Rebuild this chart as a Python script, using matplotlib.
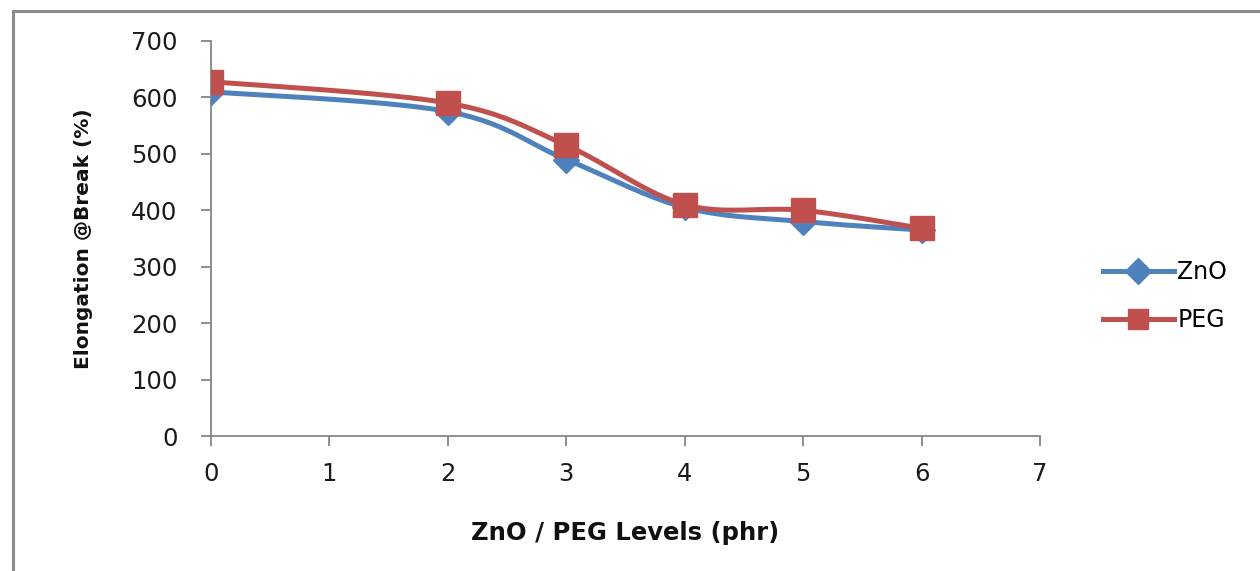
import numpy as np
import matplotlib
matplotlib.use("Agg")
import matplotlib.pyplot as plt
from matplotlib.patches import Rectangle
from matplotlib.lines import Line2D

# Data
levels = [0, 2, 3, 4, 5, 6]
zno = [610, 575, 490, 405, 380, 365]
peg = [628, 590, 515, 410, 400, 368]
series_names = ["ZnO", "PEG"]
x_ticks = [0, 1, 2, 3, 4, 5, 6, 7]
y_ticks = [0, 100, 200, 300, 400, 500, 600, 700]

BLUE = "#4F81BD"
RED = "#C0504D"
GREY = "#868686"


def smooth(x, y, n=40):
    x = np.asarray(x, float)
    y = np.asarray(y, float)
    P = np.column_stack([x, y])
    out = [P[0]]
    m = len(P)
    for i in range(m - 1):
        p0 = P[i - 1] if i > 0 else P[i]
        p1 = P[i]
        p2 = P[i + 1]
        p3 = P[i + 2] if i + 2 < m else P[i + 1]
        c1 = p1 + (p2 - p0) / 6.0
        c2 = p2 - (p3 - p1) / 6.0
        t = np.linspace(0, 1, n)[1:, None]
        b = ((1 - t) ** 3) * p1 + 3 * ((1 - t) ** 2) * t * c1 + 3 * (1 - t) * t ** 2 * c2 + t ** 3 * p2
        out.extend(b)
    out = np.array(out)
    return out[:, 0], out[:, 1]


plt.rcParams['font.family'] = ['DejaVu Sans']
fig = plt.figure(figsize=(12.6, 5.71), dpi=100)
fig.patch.set_facecolor("white")

# chart-area frame (partially outside figure)
fig.patches.append(Rectangle((12.5 / 1260, -0.1), 1.2, 1.1 - 11.5 / 571,
                             transform=fig.transFigure, fill=False,
                             edgecolor="#8c8c8c", linewidth=2.2, zorder=0))

ax = fig.add_axes([211 / 1260, 135 / 571, (1040 - 211) / 1260, (436 - 41) / 571])

LW = 3.6
sx, sy = smooth(levels, zno)
ax.plot(sx, sy, color=BLUE, lw=LW, solid_capstyle="round", zorder=3)
ax.plot(levels, zno, ls="none", marker="D", ms=13, color=BLUE, zorder=3)

sx, sy = smooth(levels, peg)
ax.plot(sx, sy, color=RED, lw=LW, solid_capstyle="round", zorder=4)
ax.plot(levels, peg, ls="none", marker="s", ms=17.5, color=RED, zorder=4)

ax.set_xlim(0, 7)
ax.set_ylim(0, 700)
ax.set_xticks(x_ticks)
ax.set_yticks(y_ticks)
for s in ["top", "right"]:
    ax.spines[s].set_visible(False)
for s in ["left", "bottom"]:
    ax.spines[s].set_color(GREY)
    ax.spines[s].set_linewidth(1.3)
ax.tick_params(axis="both", direction="out", color=GREY, width=1.3, length=7,
               labelsize=17.5, labelcolor="#1a1a1a")
ax.tick_params(axis="x", pad=12)
ax.tick_params(axis="y", pad=17)

ax.set_xlabel("ZnO / PEG Levels (phr)", fontsize=17.5, fontweight="bold",
              color="#111111")
ax.xaxis.set_label_coords(0.5, -0.215)
ax.set_ylabel("Elongation @Break (%)", fontsize=14.5, fontweight="bold",
              color="#111111")
ax.yaxis.set_label_coords(-0.142, 0.5)

handles = [Line2D([0], [0], color=BLUE, lw=LW, marker="D", ms=13),
           Line2D([0], [0], color=RED, lw=LW, marker="s", ms=14)]
leg = fig.legend(handles, series_names, loc="center left",
                 bbox_to_anchor=(1091 / 1260, (571 - 296) / 571),
                 frameon=False, fontsize=17, handlelength=3.0,
                 handletextpad=0.15, labelspacing=1.0, borderpad=0)

fig.savefig("out.png", dpi=100, facecolor="white")
